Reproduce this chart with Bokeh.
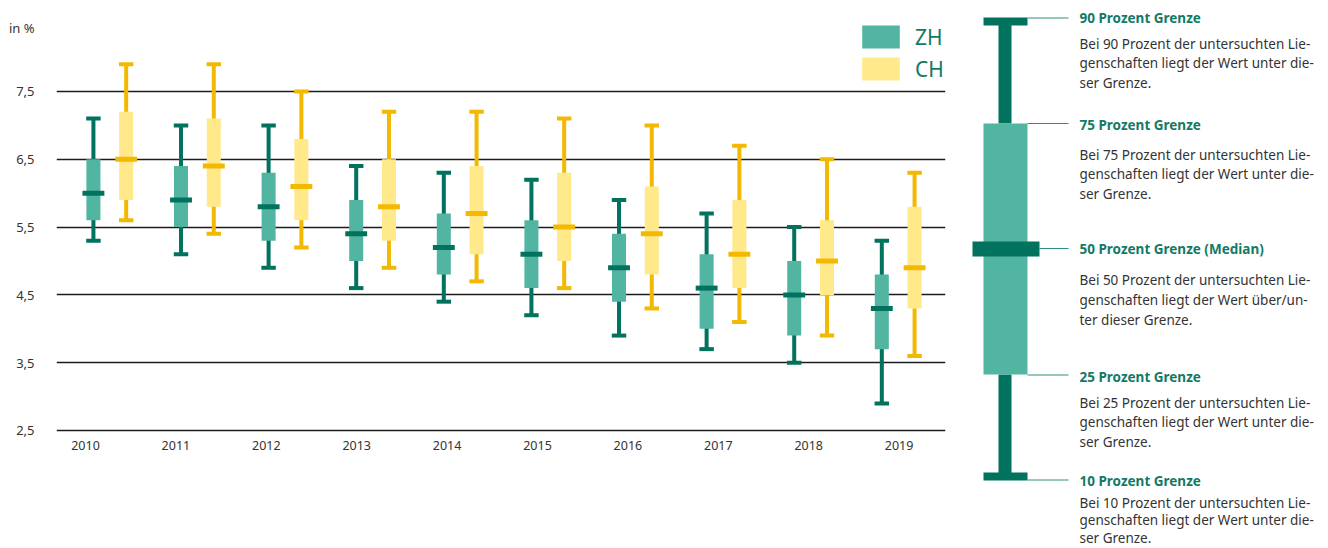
from bokeh.plotting import figure
from bokeh.models import Range1d, FixedTicker, Legend, LegendItem, ColumnDataSource
from bokeh.layouts import row
from bokeh.embed import file_html
from bokeh.resources import INLINE
from bokeh.core.properties import value

# ---------------- data ----------------
years = [2010, 2011, 2012, 2013, 2014, 2015, 2016, 2017, 2018, 2019]
year_labels = [str(y) for y in years]

zh_p10 = [5.3, 5.1, 4.9, 4.6, 4.4, 4.2, 3.9, 3.7, 3.5, 2.9]
zh_p25 = [5.6, 5.5, 5.3, 5.0, 4.8, 4.6, 4.4, 4.0, 3.9, 3.7]
zh_p50 = [6.0, 5.9, 5.8, 5.4, 5.2, 5.1, 4.9, 4.6, 4.5, 4.3]
zh_p75 = [6.5, 6.4, 6.3, 5.9, 5.7, 5.6, 5.4, 5.1, 5.0, 4.8]
zh_p90 = [7.1, 7.0, 7.0, 6.4, 6.3, 6.2, 5.9, 5.7, 5.5, 5.3]

ch_p10 = [5.6, 5.4, 5.2, 4.9, 4.7, 4.6, 4.3, 4.1, 3.9, 3.6]
ch_p25 = [5.9, 5.8, 5.6, 5.3, 5.1, 5.0, 4.8, 4.6, 4.5, 4.3]
ch_p50 = [6.5, 6.4, 6.1, 5.8, 5.7, 5.5, 5.4, 5.1, 5.0, 4.9]
ch_p75 = [7.2, 7.1, 6.8, 6.5, 6.4, 6.3, 6.1, 5.9, 5.6, 5.8]
ch_p90 = [7.9, 7.9, 7.5, 7.2, 7.2, 7.1, 7.0, 6.7, 6.5, 6.3]

y_ticks = [2.5, 3.5, 4.5, 5.5, 6.5, 7.5]
y_tick_labels = ["2,5", "3,5", "4,5", "5,5", "6,5", "7,5"]
unit_label = "in %"
series_names = ["ZH", "CH"]

expl_titles = ["90 Prozent Grenze", "75 Prozent Grenze", "50 Prozent Grenze (Median)",
               "25 Prozent Grenze", "10 Prozent Grenze"]
expl_bodies = [
    ["Bei 90 Prozent der untersuchten Lie-", "genschaften liegt der Wert unter die-", "ser Grenze."],
    ["Bei 75 Prozent der untersuchten Lie-", "genschaften liegt der Wert unter die-", "ser Grenze."],
    ["Bei 50 Prozent der untersuchten Lie-", "genschaften liegt der Wert über/un-", "ter dieser Grenze."],
    ["Bei 25 Prozent der untersuchten Lie-", "genschaften liegt der Wert unter die-", "ser Grenze."],
    ["Bei 10 Prozent der untersuchten Lie-", "genschaften liegt der Wert unter die-", "ser Grenze."],
]

# ---------------- style ----------------
FONT = "Noto Sans"
ZH_DARK = "#00725E"
ZH_LIGHT = "#52B5A1"
CH_DARK = "#F3B800"
CH_LIGHT = "#FFE98B"
TEXT = "#333333"
TITLE = "#137A67"

DODGE = 0.187
BOX_W = 0.16
CAP_W = 0.165
MED_W = 0.25
LABEL_ROW = 2.279   # vertical position of the year labels (below the 2,5 line)

H = 548
p = figure(width=963, height=H,
           x_range=Range1d(2009.3916, 2019.540), y_range=Range1d(0.7596, 8.842),
           output_backend="svg", toolbar_location=None, x_axis_location=None,
           min_border_left=56, min_border_right=18, min_border_top=0, min_border_bottom=0)
p.outline_line_color = None
p.xgrid.visible = False
p.ygrid.ticker = FixedTicker(ticks=y_ticks)
p.ygrid.grid_line_color = "#1c1c1c"
p.ygrid.grid_line_width = 1.5

# y axis
unit_pos = 8.44
p.yaxis.ticker = FixedTicker(ticks=y_ticks + [unit_pos])
ov = {t: l for t, l in zip(y_ticks, y_tick_labels)}
ov[unit_pos] = unit_label
p.yaxis.major_label_overrides = ov
p.yaxis.axis_line_color = None
p.yaxis.major_tick_line_color = None
p.yaxis.minor_tick_line_color = None
p.yaxis.major_tick_out = 0
p.yaxis.major_label_standoff = 22
p.yaxis.major_label_text_font = FONT
p.yaxis.major_label_text_font_size = "13px"
p.yaxis.major_label_text_color = TEXT

# year labels on their own horizontal scale
p.extra_x_ranges = {"lab": Range1d(2009.6792, 2019.5133)}
p.text(x=years, y=[LABEL_ROW] * len(years), text=year_labels, x_range_name="lab",
       text_align="center", text_baseline="middle", text_font=value(FONT),
       text_font_size="12.5px", text_color=TEXT)


def draw(xs, lo, q1, med, q3, hi, dark, light):
    src = ColumnDataSource(dict(x=xs, lo=lo, q1=q1, med=med, q3=q3, hi=hi))
    p.segment(x0="x", y0="lo", x1="x", y1="hi", source=src, line_color=dark, line_width=4)
    box = p.vbar(x="x", top="q3", bottom="q1", width=BOX_W, source=src,
                 fill_color=light, line_color=None)
    p.rect(x="x", y="hi", width=CAP_W, height=4, height_units="screen", source=src,
           fill_color=dark, line_color=None)
    p.rect(x="x", y="lo", width=CAP_W, height=4, height_units="screen", source=src,
           fill_color=dark, line_color=None)
    p.rect(x="x", y="med", width=MED_W, height=5, height_units="screen", source=src,
           fill_color=dark, line_color=None)
    return box


zh_box = draw([y - DODGE for y in years], zh_p10, zh_p25, zh_p50, zh_p75, zh_p90, ZH_DARK, ZH_LIGHT)
ch_box = draw([y + DODGE for y in years], ch_p10, ch_p25, ch_p50, ch_p75, ch_p90, CH_DARK, CH_LIGHT)

legend = Legend(items=[LegendItem(label=series_names[0], renderers=[zh_box]),
                       LegendItem(label=series_names[1], renderers=[ch_box])],
                location=(801, 465), glyph_width=47, glyph_height=29, spacing=3,
                padding=0, margin=0, label_standoff=11,
                label_text_font=FONT, label_text_font_size="21px", label_text_color=TITLE,
                border_line_color=None, background_fill_alpha=0)
p.add_layout(legend)

# ---------------- explanation panel ----------------
q = figure(width=365, height=H, x_range=Range1d(963, 1328), y_range=Range1d(H, 0),
           output_backend="svg", toolbar_location=None, x_axis_location=None,
           y_axis_location=None, min_border=0)
q.outline_line_color = None
q.xgrid.visible = False
q.ygrid.visible = False

# schematic box plot (layout positions)
q.quad(left=[998, 998], right=[1011, 1011], top=[21, 374], bottom=[123, 476],
       fill_color=ZH_DARK, line_color=None)
q.quad(left=[983], right=[1027], top=[123], bottom=[374], fill_color=ZH_LIGHT, line_color=None)
q.quad(left=[983, 983, 972], right=[1027, 1027, 1039], top=[17, 472, 241], bottom=[25, 480, 256],
       fill_color=ZH_DARK, line_color=None)
lead_y = [17.5, 123, 248, 374.5, 479.5]
lead_x0 = [1027, 1027, 1039, 1027, 1027]
q.segment(x0=lead_x0, y0=lead_y, x1=[1068] * 5, y1=lead_y, line_color="#2E8F7C", line_width=1)

title_y = [17, 124, 248, 376, 480]
q.text(x=[1079] * 5, y=title_y, text=expl_titles, text_baseline="middle",
       text_font=value(FONT), text_font_style="bold", text_font_size="13.5px", text_color=TITLE)

body_start = [43, 154, 279, 402, 502]
body_step = [19.5, 19.5, 20, 19.5, 17.5]
bx, by, bt = [], [], []
for s, st, lines in zip(body_start, body_step, expl_bodies):
    for i, ln in enumerate(lines):
        bx.append(1079)
        by.append(s + i * st)
        bt.append(ln)
q.text(x=bx, y=by, text=bt, text_baseline="middle", text_font=value(FONT),
       text_font_size="13.5px", text_color=TEXT)

layout = row(p, q)
open("out.html", "w").write(file_html(layout, INLINE))
